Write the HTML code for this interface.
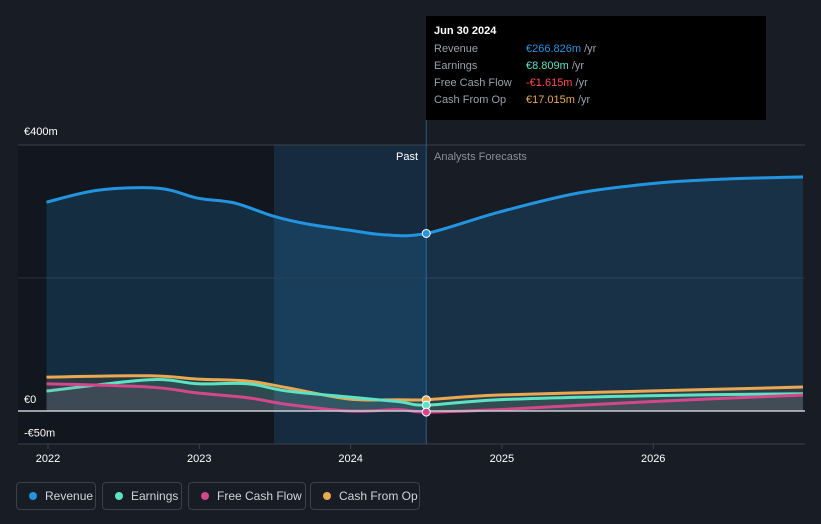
<!DOCTYPE html>
<html><head><meta charset="utf-8"><style>
body{margin:0;background:#181c25;font-family:"Liberation Sans",sans-serif;}
svg text{font-family:"Liberation Sans",sans-serif;}
.leg{position:absolute;top:482px;height:28px;border:1px solid #3a404c;border-radius:4px;box-sizing:border-box;color:#d0d4da;font-size:12px;line-height:26px;padding-left:28px}
.leg i{position:absolute;left:12px;top:9px;width:8px;height:8px;border-radius:50%}
</style></head><body>
<div style="position:relative;width:821px;height:524px;overflow:hidden">
<svg id="c" width="821" height="524" style="position:absolute;left:0;top:0"></svg>
<div class="leg" style="left:16px;width:80px"><i style="background:#2394df"></i>Revenue</div>
<div class="leg" style="left:102px;width:80px"><i style="background:#5de2c3"></i>Earnings</div>
<div class="leg" style="left:188px;width:118px"><i style="background:#d2488a"></i>Free Cash Flow</div>
<div class="leg" style="left:310px;width:110px"><i style="background:#e9a851"></i>Cash From Op</div>
<div style="position:absolute;left:426px;top:16px;width:340px;height:104px;background:#000;color:#fff;font-size:11px">
<div style="position:absolute;left:8px;top:9px;font-weight:bold">Jun 30 2024</div>
<div style="position:absolute;left:8px;top:27px;color:#9aa0aa">Revenue</div><div style="position:absolute;left:100px;top:27px"><span style="color:#2394df">€266.826m</span> <span style="color:#9aa0aa">/yr</span></div>
<div style="position:absolute;left:8px;top:44px;color:#9aa0aa">Earnings</div><div style="position:absolute;left:100px;top:44px"><span style="color:#5de2c3">€8.809m</span> <span style="color:#9aa0aa">/yr</span></div>
<div style="position:absolute;left:8px;top:61px;color:#9aa0aa">Free Cash Flow</div><div style="position:absolute;left:100px;top:61px"><span style="color:#ff4b4b">-€1.615m</span> <span style="color:#9aa0aa">/yr</span></div>
<div style="position:absolute;left:8px;top:78px;color:#9aa0aa">Cash From Op</div><div style="position:absolute;left:100px;top:78px"><span style="color:#e9a851">€17.015m</span> <span style="color:#9aa0aa">/yr</span></div>
</div>
</div>
<script>
const years=[2021.99,2022.33,2022.73,2022.99,2023.23,2023.49,2023.72,2023.99,2024.22,2024.5,2024.98,2025.51,2026.04,2026.5,2026.99];
const revenue=[314,332,335,320,313,293,281,272,265,267,299,328,343,349,352];
const eYears=[2021.99,2022.67,2022.99,2023.32,2023.58,2023.99,2024.32,2024.5,2024.98,2025.97,2026.99];
const earnings=[30,47,41,41,30,21,14,8.8,17,23,26];
const fcf=[41,36,27,20,10,0,2,-1.6,2,14,24];
const cashOp=[51,53,48,45,35,18,17,17,24,30,36];
const yTicks=[400,0,-50];const yLabels=["€400m","€0","-€50m"];
const xTicks=[2022,2023,2024,2025,2026];
const X=v=>48+(v-2022)*151.3;
const Y=v=>411-v*0.665;
const s=document.getElementById('c');const NS="http://www.w3.org/2000/svg";
function el(t,a,p){const e=document.createElementNS(NS,t);for(const k in a)e.setAttribute(k,a[k]);(p||s).appendChild(e);return e;}
const nowX=X(2024.5);
let r=el('rect',{x:18,y:145,width:256,height:299,fill:'#12161e'});
r=el('rect',{x:274,y:145,width:nowX-274,height:299,fill:'#173049',opacity:0.75});
el('line',{x1:18,x2:805,y1:Y(400),y2:Y(400),stroke:'#3a404c'});
el('line',{x1:18,x2:805,y1:Y(200),y2:Y(200),stroke:'#2b313c'});
el('line',{x1:18,x2:805,y1:444,y2:444,stroke:'#3a404c'});
el('line',{x1:nowX,x2:nowX,y1:120,y2:444,stroke:'#2a5c85'});
const yOff=[-10,-8,-8];
yTicks.forEach((v,i)=>{const t=el('text',{x:24,y:Y(v)+yOff[i],fill:'#fff',"font-size":11});t.textContent=yLabels[i];});
xTicks.forEach(v=>{el('line',{x1:X(v),x2:X(v),y1:444,y2:449,stroke:'#3a404c'});const t=el('text',{x:X(v),y:462,fill:'#fff',"font-size":11,"text-anchor":"middle"});t.textContent=v;});
let t=el('text',{x:418,y:160,fill:'#fff',"font-size":11,"text-anchor":"end"});t.textContent='Past';
t=el('text',{x:434,y:160,fill:'#8a909a',"font-size":11});t.textContent='Analysts Forecasts';
function path(xs,vs){const P=xs.map((x,i)=>[X(x),Y(vs[i])]);let d='M'+P[0][0]+','+P[0][1];
for(let i=0;i<P.length-1;i++){const p0=P[Math.max(0,i-1)],p1=P[i],p2=P[i+1],p3=P[Math.min(P.length-1,i+2)];
const k=6;const c1=[p1[0]+(p2[0]-p0[0])/k,p1[1]+(p2[1]-p0[1])/k],c2=[p2[0]-(p3[0]-p1[0])/k,p2[1]-(p3[1]-p1[1])/k];
d+=' C'+c1[0]+','+c1[1]+' '+c2[0]+','+c2[1]+' '+p2[0]+','+p2[1];}return d;}
function series(xs,vs,col,name,fillOp){const d=path(xs,vs);
let a=el('path',{d:d+' L'+X(xs[xs.length-1])+','+Y(0)+' L'+X(xs[0])+','+Y(0)+'Z',fill:col,opacity:fillOp});
let l=el('path',{d:d,fill:'none',stroke:col,"stroke-width":3});}
series(years,revenue,'#2394df','revenue',0.18);
series(eYears,cashOp,'#e9a851','cash-from-op',0.1);
series(eYears,earnings,'#5de2c3','earnings',0.1);
series(eYears,fcf,'#d2488a','free-cash-flow',0.1);
el('line',{x1:18,x2:805,y1:Y(0),y2:Y(0),stroke:'#c8ccd2',"stroke-width":1.5});
[[revenue[9],'#2394df'],[cashOp[7],'#e9a851'],[earnings[7],'#5de2c3'],[fcf[7],'#d2488a']].forEach(([v,c])=>{const d=el('circle',{cx:nowX,cy:Y(v),r:4,fill:c,stroke:'#fff',"stroke-width":1});});
</script>
</body></html>
